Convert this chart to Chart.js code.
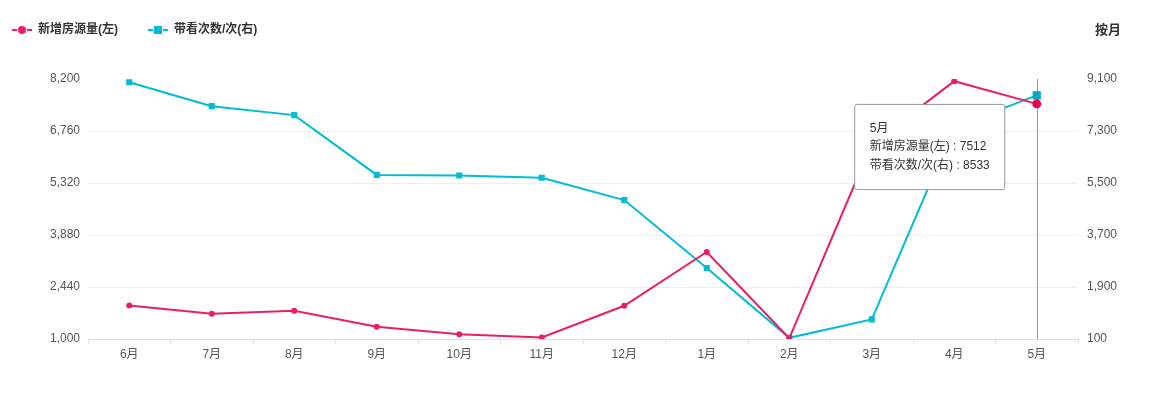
<!DOCTYPE html>
<html>
<head>
<meta charset="utf-8">
<script src="https://cdn.jsdelivr.net/npm/chart.js@4/dist/chart.umd.min.js"></script>
<style>
html,body{margin:0;padding:0;background:#fff;}
#wrap{width:1151px;height:394px;position:relative;}
</style>
</head>
<body>
<div id="wrap"><canvas id="c" width="1151" height="394"></canvas></div>
<script>
const categories = ['6月','7月','8月','9月','10月','11月','12月','1月','2月','3月','4月','5月'];
const newListings = [1930, 1700, 1780, 1340, 1130, 1040, 1920, 3410, 1020, 6400, 8140, 7512];
const viewings = [8990, 8160, 7850, 5780, 5760, 5680, 4910, 2560, 140, 780, 7430, 8533];
const seriesLabels = ['新增房源量(左)', '带看次数/次(右)'];
const leftTicks = [1000, 2440, 3880, 5320, 6760, 8200];
const rightTicks = [100, 1900, 3700, 5500, 7300, 9100];
const periodLabel = '按月';
const activeIndex = 11;

const RED = '#e91e63';
const CYAN = '#00bcd4';
const FONT = '"Liberation Sans", Arial, "Noto Sans CJK SC", sans-serif';

const legendPlugin = {
  id: 'customLegend',
  afterDraw(chart) {
    const ctx = chart.ctx;
    ctx.save();
    const items = [
      {x: 12, color: RED, style: 'circle', text: seriesLabels[0]},
      {x: 148, color: CYAN, style: 'rect', text: seriesLabels[1]}
    ];
    const y = 30;
    items.forEach(it => {
      ctx.strokeStyle = it.color;
      ctx.fillStyle = it.color;
      ctx.lineWidth = 2;
      ctx.beginPath(); ctx.moveTo(it.x, y); ctx.lineTo(it.x + 5, y); ctx.stroke();
      ctx.beginPath(); ctx.moveTo(it.x + 15, y); ctx.lineTo(it.x + 20, y); ctx.stroke();
      if (it.style === 'circle') {
        ctx.beginPath(); ctx.arc(it.x + 10, y, 4, 0, Math.PI * 2); ctx.fill();
      } else {
        ctx.fillRect(it.x + 6, y - 4, 8, 8);
      }
      ctx.fillStyle = '#333';
      ctx.font = 'bold 12px ' + FONT;
      ctx.textBaseline = 'middle';
      ctx.textAlign = 'left';
      ctx.fillText(it.text, it.x + 26, y);
    });
    ctx.font = 'bold 13px ' + FONT;
    ctx.fillStyle = '#333';
    ctx.textAlign = 'left';
    ctx.textBaseline = 'middle';
    ctx.fillText(periodLabel, 1095, 30);
    ctx.restore();
  }
};

const crosshairPlugin = {
  id: 'crosshair',
  beforeDatasetsDraw(chart) {
    const active = chart.tooltip && chart.tooltip.getActiveElements();
    if (!active || !active.length) return;
    const x = active[0].element.x;
    const ctx = chart.ctx;
    ctx.save();
    ctx.strokeStyle = '#999';
    ctx.lineWidth = 1;
    ctx.beginPath();
    ctx.moveTo(Math.round(x) + 0.5, chart.chartArea.top);
    ctx.lineTo(Math.round(x) + 0.5, chart.chartArea.bottom);
    ctx.stroke();
    ctx.restore();
  }
};

Chart.Tooltip.positioners.fixedLeft = function(elements) {
  if (!elements.length) return false;
  const ca = this.chart.chartArea;
  return {x: elements[0].element.x - 32, y: ca.top + 68};
};

const chart = new Chart(document.getElementById('c'), {
  type: 'line',
  data: {
    labels: categories,
    datasets: [
      {
        label: seriesLabels[0],
        data: newListings,
        yAxisID: 'y',
        borderColor: RED,
        backgroundColor: RED,
        borderWidth: 2,
        pointStyle: 'circle',
        pointRadius: 3,
        pointHoverRadius: 4.5,
        pointBorderWidth: 0,
        pointHoverBorderWidth: 0,
        tension: 0
      },
      {
        label: seriesLabels[1],
        data: viewings,
        yAxisID: 'y1',
        borderColor: CYAN,
        backgroundColor: CYAN,
        borderWidth: 2,
        pointStyle: 'rect',
        pointRadius: 4.3,
        pointHoverRadius: 5.8,
        pointBorderWidth: 0,
        pointHoverBorderWidth: 0,
        tension: 0
      }
    ]
  },
  options: {
    responsive: false,
    animation: false,
    events: [],
    layout: {padding: {top: 79, left: 0, right: 0, bottom: 0}},
    plugins: {
      legend: {display: false},
      tooltip: {
        enabled: true,
        mode: 'index',
        intersect: false,
        position: 'fixedLeft',
        xAlign: 'right',
        yAlign: 'center',
        caretSize: 0,
        caretPadding: 0,
        backgroundColor: '#fff',
        borderColor: '#999',
        borderWidth: 1,
        cornerRadius: 2,
        displayColors: false,
        titleColor: '#333',
        bodyColor: '#333',
        titleFont: {family: FONT, size: 12, weight: 'normal'},
        bodyFont: {family: FONT, size: 12},
        titleMarginBottom: 4,
        bodySpacing: 4,
        padding: {left: 15, right: 15, top: 17, bottom: 17},
        callbacks: {
          label: (item) => item.dataset.label + ' : ' + item.raw
        }
      }
    },
    scales: {
      x: {
        offset: true,
        grid: {display: true, offset: true, drawOnChartArea: false, drawTicks: true, tickLength: 5, color: '#e0e0e0'},
        border: {display: true, color: '#e0e0e0'},
        ticks: {color: '#555', font: {family: FONT, size: 12}, padding: 3, maxRotation: 0, autoSkip: false},
        afterFit(s) { s.height = 55; }
      },
      y: {
        position: 'left',
        min: leftTicks[0],
        max: leftTicks[leftTicks.length - 1],
        afterBuildTicks(s) { s.ticks = leftTicks.map(v => ({value: v})); },
        grid: {
          drawTicks: false,
          color: (c) => (c.tick && c.tick.value === leftTicks[leftTicks.length - 1]) ? 'rgba(0,0,0,0)' : '#eeeeee'
        },
        border: {display: false},
        ticks: {color: '#555', font: {family: FONT, size: 12}, padding: 8,
          callback: (v) => v.toLocaleString('en-US')},
        afterFit(s) { s.width = 88; }
      },
      y1: {
        position: 'right',
        min: rightTicks[0],
        max: rightTicks[rightTicks.length - 1],
        afterBuildTicks(s) { s.ticks = rightTicks.map(v => ({value: v})); },
        grid: {drawOnChartArea: false, drawTicks: false},
        border: {display: false},
        ticks: {color: '#555', font: {family: FONT, size: 12}, padding: 9,
          callback: (v) => v.toLocaleString('en-US')},
        afterFit(s) { s.width = 73; }
      }
    }
  },
  plugins: [legendPlugin, crosshairPlugin]
});

const act = [{datasetIndex: 0, index: activeIndex}, {datasetIndex: 1, index: activeIndex}];
chart.setActiveElements(act);
chart.tooltip.setActiveElements(act, {x: 0, y: 0});
chart.update();
</script>
</body>
</html>
